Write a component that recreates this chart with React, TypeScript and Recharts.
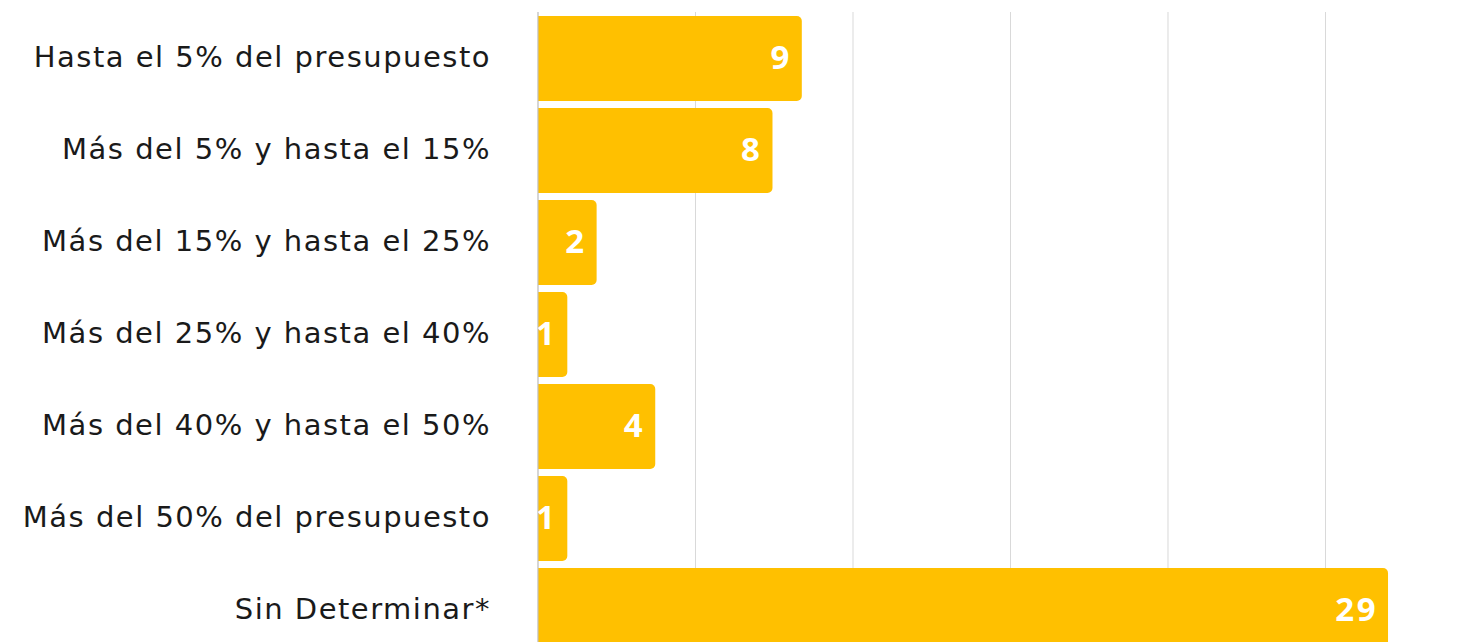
import React from "react";
import { BarChart, Bar, XAxis, YAxis, CartesianGrid, LabelList } from "recharts";

const categories = [
  "Hasta el 5% del presupuesto",
  "Más del 5% y hasta el 15%",
  "Más del 15% y hasta el 25%",
  "Más del 25% y hasta el 40%",
  "Más del 40% y hasta el 50%",
  "Más del 50% del presupuesto",
  "Sin Determinar*",
];
const counts = [9, 8, 2, 1, 4, 1, 29];
const gridTicks = [0, 5.373, 10.747, 16.12, 21.493, 26.867, 32.24];

const data = categories.map((name, i) => ({ name, value: counts[i] }));

const ValueLabel = (props: any) => {
  const { x, y, width, height, value } = props;
  return (
    <text
      x={x + width - 10}
      y={y + height / 2 - 2}
      textAnchor="end"
      dominantBaseline="central"
      fill="#ffffff"
      fontFamily="Open Sans"
      fontWeight="bold"
      fontSize={33}
      letterSpacing={2.5}
    >
      {value}
    </text>
  );
};

const CategoryTick = (props: any) => {
  const { x, y, payload } = props;
  return (
    <text
      x={x}
      y={y - 1}
      textAnchor="end"
      dominantBaseline="central"
      fill="#1a1a1a"
      fontFamily="DejaVu Sans"
      fontSize={29}
      letterSpacing={1.5}
    >
      {payload.value}
    </text>
  );
};

export default function App() {
  return (
    <div style={{ position: "absolute", left: 0, top: 0, width: 1475, height: 642, overflow: "hidden", background: "#fff" }}>
      <BarChart
        width={1483}
        height={660}
        data={data}
        layout="vertical"
        margin={{ top: 12, right: 0, bottom: 4, left: 0 }}
        barSize={85}
      >
        <CartesianGrid horizontal={false} stroke="#d9d9d9" strokeWidth={1} />
        <XAxis type="number" domain={[0, 32.24]} ticks={gridTicks} hide allowDataOverflow />
        <YAxis
          type="category"
          dataKey="name"
          width={538}
          axisLine={{ stroke: "#bfbfbf" }}
          tickLine={false}
          tickMargin={41}
          tick={CategoryTick}
        />
        <Bar dataKey="value" fill="#FFC000" radius={[0, 5, 5, 0]} isAnimationActive={false}>
          <LabelList dataKey="value" content={ValueLabel} />
        </Bar>
      </BarChart>
    </div>
  );
}
